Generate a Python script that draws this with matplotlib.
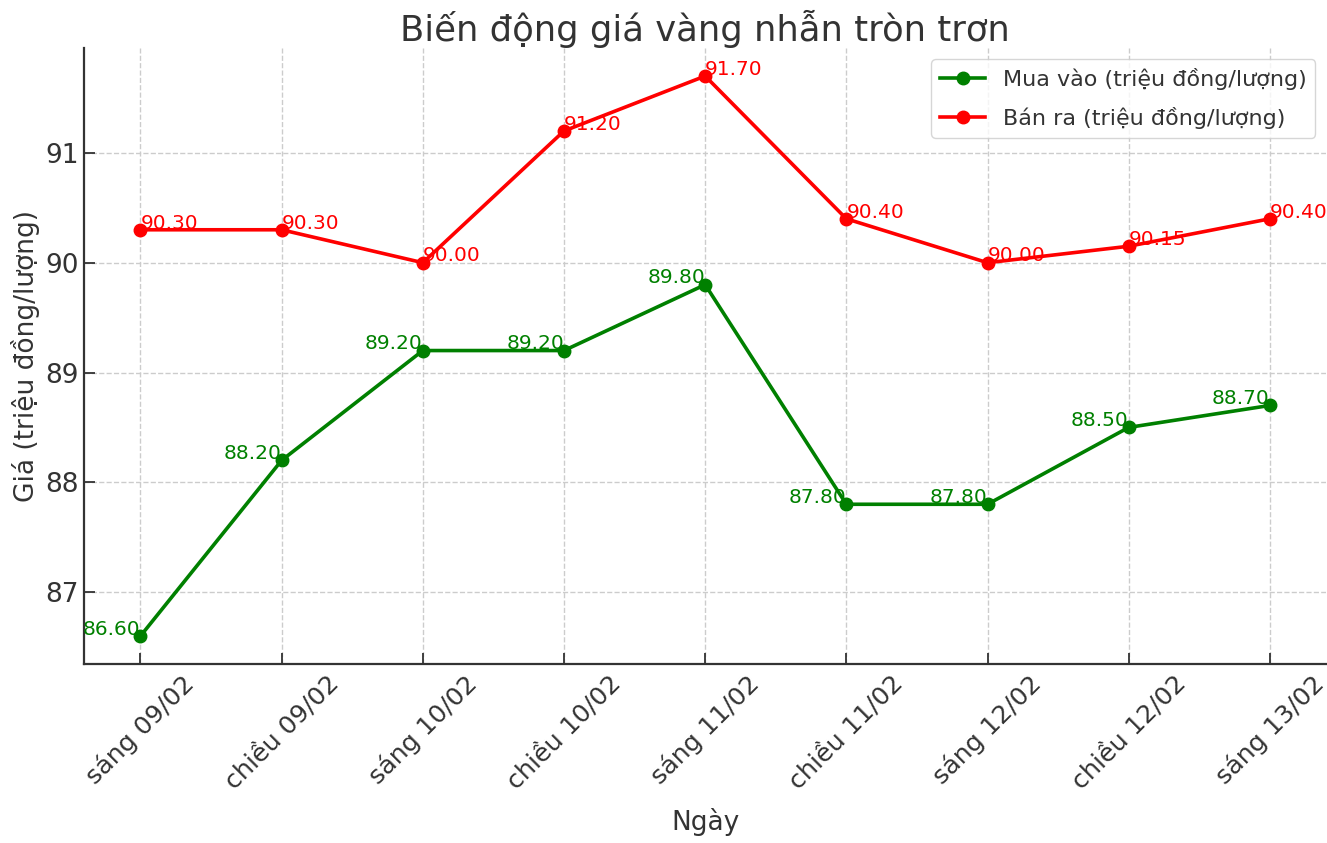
import matplotlib
matplotlib.use('Agg')
import matplotlib.pyplot as plt

# dữ liệu giá vàng nhẫn tròn trơn
ngay = ['sáng 09/02', 'chiều 09/02', 'sáng 10/02', 'chiều 10/02', 'sáng 11/02',
        'chiều 11/02', 'sáng 12/02', 'chiều 12/02', 'sáng 13/02']
mua_vao = [86.60, 88.20, 89.20, 89.20, 89.80, 87.80, 87.80, 88.50, 88.70]
ban_ra = [90.30, 90.30, 90.00, 91.20, 91.70, 90.40, 90.00, 90.15, 90.40]

text_color = '#333333'
plt.rcParams['font.family'] = 'DejaVu Sans'
plt.rcParams['text.color'] = text_color
plt.rcParams['axes.labelcolor'] = text_color
plt.rcParams['xtick.color'] = text_color
plt.rcParams['ytick.color'] = text_color

fig, ax = plt.subplots(figsize=(13.27, 8.43), dpi=100)
fig.subplots_adjust(left=0.0633, right=0.9995, bottom=0.2123, top=0.943)

x = range(len(ngay))
ax.plot(x, mua_vao, marker='o', color='green', linewidth=2.6, markersize=9,
        label='Mua vào (triệu đồng/lượng)')
ax.plot(x, ban_ra, marker='o', color='red', linewidth=2.6, markersize=9,
        label='Bán ra (triệu đồng/lượng)')

# nhãn giá trị trên từng điểm
for i, v in enumerate(mua_vao):
    ax.annotate(f'{v:.2f}', (i, v), xytext=(0, -2), textcoords='offset points',
                ha='right', va='bottom', color='green', fontsize=14.5)
for i, v in enumerate(ban_ra):
    ax.annotate(f'{v:.2f}', (i, v), xytext=(0, -2), textcoords='offset points',
                ha='left', va='bottom', color='red', fontsize=14.5)

ax.set_xticks(list(x))
ax.set_xticklabels(ngay, rotation=45, ha='center')
ax.tick_params(axis='both', direction='in', length=8, width=1.3, labelsize=19)
ax.tick_params(axis='x', labelsize=18.3, pad=5)
ax.set_yticks([87, 88, 89, 90, 91])

ax.set_title('Biến động giá vàng nhẫn tròn trơn', fontsize=25.5, color=text_color, pad=5)
ax.set_xlabel('Ngày', fontsize=19, labelpad=10)
ax.set_ylabel('Giá (triệu đồng/lượng)', fontsize=19)

ax.spines['top'].set_visible(False)
ax.spines['right'].set_visible(False)
for s in ['left', 'bottom']:
    ax.spines[s].set_color(text_color)
    ax.spines[s].set_linewidth(1.6)
ax.grid(True, linestyle='--', color='#cccccc', linewidth=1)

ax.legend(loc='upper right', fontsize=16, framealpha=0.8, labelspacing=0.75)

plt.savefig('out.png', dpi=100)
